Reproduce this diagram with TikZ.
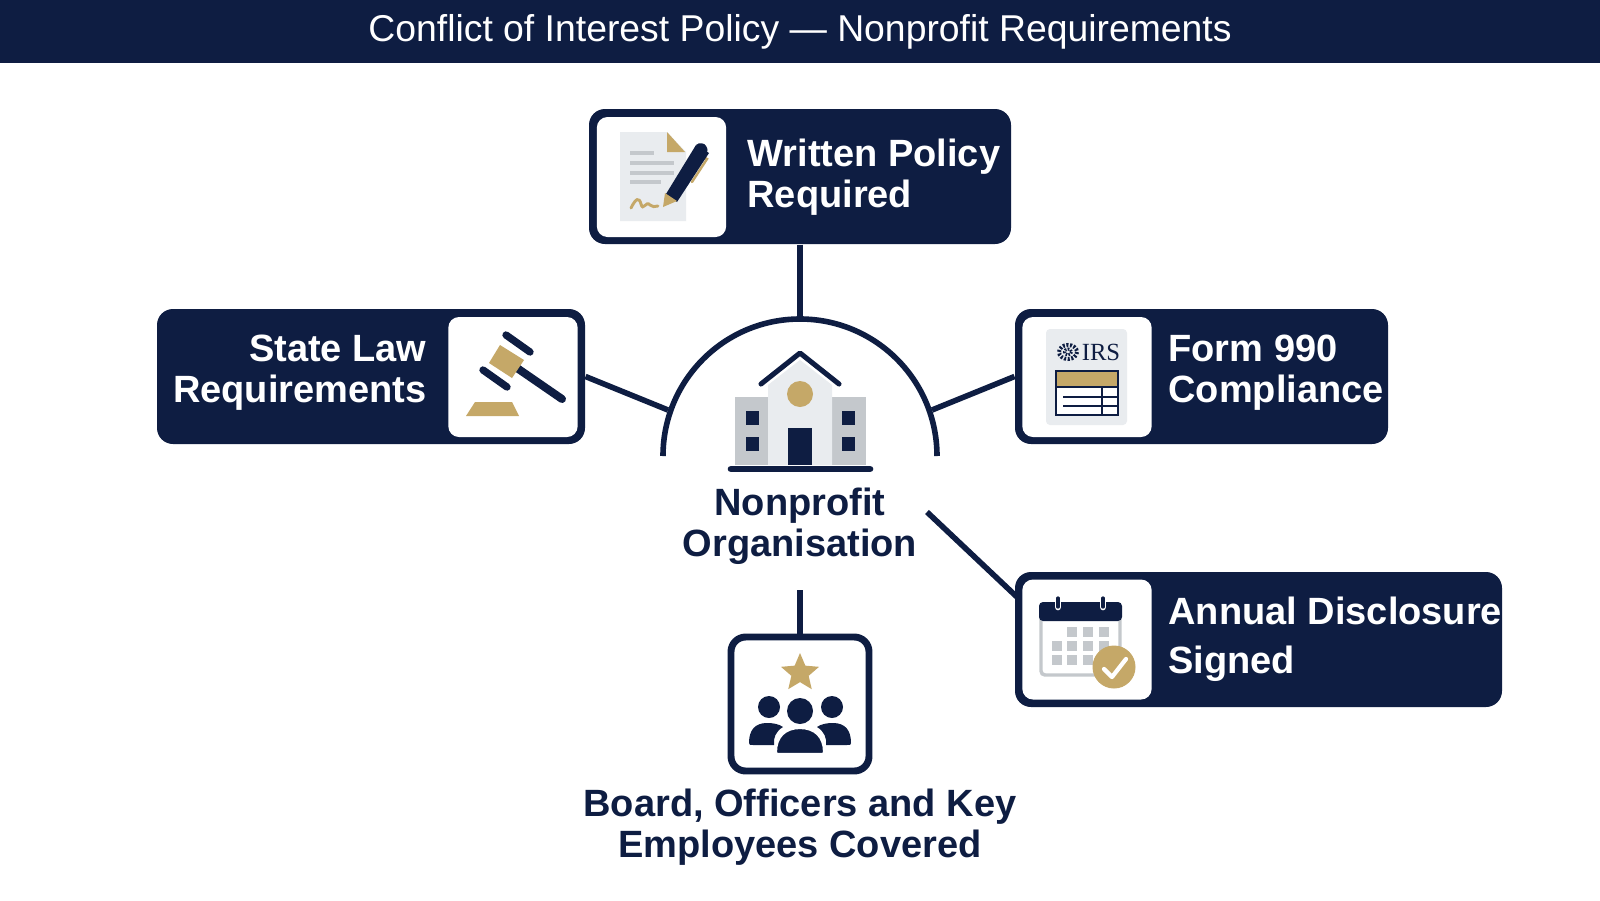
\documentclass[tikz,border=0pt]{standalone}
\usepackage{fontspec}
\setmainfont{Liberation Sans}
\newfontfamily\irsfont{Liberation Serif}
\usetikzlibrary{shapes.geometric}
\definecolor{navy}{RGB}{14,29,66}
\definecolor{gold}{RGB}{197,168,104}
\definecolor{paper}{RGB}{233,236,239}
\definecolor{wing}{RGB}{196,200,204}

\tikzset{every picture/.style={line width=0.75pt}}
\tikzset{
  navybox/.style={fill=navy,rounded corners=12pt,inner sep=0pt,minimum height=101.25pt},
  iconbox/.style={fill=white,rounded corners=8pt,inner sep=0pt,minimum width=97pt,minimum height=90pt},
  boxlabel/.style={text=white,inner sep=0pt,font=\bfseries\fontsize{28.5}{30.75}\selectfont},
  darklabel/.style={text=navy,inner sep=0pt,align=center,font=\bfseries\fontsize{28.5}{30.75}\selectfont},
  link/.style={draw=navy,line width=4.2pt},
  bar/.style={draw=navy,line cap=round,line width=#1},
  paperline/.style={draw=wing,line width=2.6pt},
  cell/.style={fill=wing,minimum size=7pt,inner sep=0pt}
}

\begin{document}
\begin{tikzpicture}[x=0.75pt,y=0.75pt,yscale=-1,xscale=1]
\useasboundingbox (0,0) rectangle (1600,900);
\fill[white] (0,0) rectangle (1600,900);

%Title bar
\node[fill=navy,minimum width=1200pt,minimum height=47.25pt,inner sep=0pt,text=white,font=\fontsize{28}{32}\selectfont] (titlebar) at (800,31.5) {Conflict of Interest Policy --- Nonprofit Requirements};

%Free ends of the connectors on the arc
\coordinate (arcleft) at (663,456);
\coordinate (arcright) at (937,456);
\coordinate (arctop) at (800,319);
\coordinate (arcwest) at (668,410);
\coordinate (arceast) at (932,410);
\coordinate (hubse) at (927,512);
\coordinate (hubs) at (800,590);
\coordinate (annualin) at (1017,597);

%Outer boxes
\node[navybox,minimum width=316.5pt] (writtenbox) at (800,176.5) {};
\node[navybox,minimum width=321pt] (lawbox) at (371,376.5) {};
\node[navybox,minimum width=279.75pt] (formbox) at (1201.5,376.5) {};
\node[navybox,minimum width=365.25pt] (annualbox) at (1258.5,639.5) {};
\node[draw=navy,line width=5.2pt,fill=white,rounded corners=11pt,inner sep=0pt,minimum width=103.5pt,minimum height=100.5pt] (boardbox) at (800,704) {};

%Straight Lines
\draw[link] (writtenbox.south) -- (arctop);
\draw[link] (lawbox.east) -- (arcwest);
\draw[link] (formbox.west) -- (arceast);
\draw[link] (hubse) -- (annualin);
\draw[link] (hubs) -- (boardbox.north);
%Arc round the building
\draw[link] (arcleft) arc[start angle=180,end angle=360,radius=137];

%White icon panels
\node[iconbox] (writtenicon) at (661.5,177) {};
\node[iconbox] (lawicon) at (513,377) {};
\node[iconbox] (formicon) at (1087,377) {};
\node[iconbox] (annualicon) at (1087,639.5) {};

%Labels
\node[boxlabel,anchor=west,align=left] (writtentext) at (747,177) {Written Policy\\Required};
\node[boxlabel,anchor=east,align=right] (lawtext) at (427,373) {State Law\\Requirements};
\node[boxlabel,anchor=west,align=left] (formtext) at (1168,373) {Form 990\\Compliance};
\node[boxlabel,anchor=west,align=left,font=\bfseries\fontsize{28.5}{36.75}\selectfont] (annualtext) at (1168,639) {Annual Disclosure\\Signed};
\node[darklabel] (hubtext) at (800,526) {Nonprofit\\Organisation};
\node[darklabel] (boardtext) at (800,827) {Board, Officers and Key\\Employees Covered};

%Document icon
\fill[paper] (620,132) -- (667,132) -- (686,152) -- (686,221) -- (620,221) -- cycle;
\fill[gold] (667,132) -- (685,152) -- (667,152) -- cycle;
\draw[paperline] (630,153) -- (654,153);
\draw[paperline] (630,163) -- (674,163);
\draw[paperline] (630,173) -- (674,173);
\draw[paperline] (630,182) -- (661,182);
\draw[gold,line width=2.2pt,line cap=round] (631,208) .. controls (636,198) and (639,197) .. (641,204) .. controls (643,212) and (646,200) .. (650,205) .. controls (652,207) and (655,207) .. (658,206);
\draw[gold,line width=1.8pt,line cap=round] (695,152) -- (707,159) -- (692,182);
\fill[navy] (666,194) -- (696,145) -- (709,153) -- (677,202) -- cycle;
\fill[navy] (696,145) .. controls (699,142) and (705,143) .. (706,146) .. controls (708,149) and (708,151) .. (706,154) -- cycle;
\fill[gold] (663,207) -- (665,193) -- (677,201) -- cycle;

%Gavel icon
\fill[gold] (475,402) -- (512,402) -- (519,416) -- (466,416) -- cycle;
\draw[bar=6pt] (517,368) -- (562,399);
\fill[gold] (500,345) -- (524,360) -- (512,378) -- (489,363) -- cycle;
\draw[bar=5.5pt] (506,335) -- (530,352);
\draw[bar=5.5pt] (483,370) -- (507,387);

%Form icon
\fill[paper,rounded corners=3pt] (1046,329) rectangle (1127,425);
\node[text=navy,inner sep=0pt,font=\irsfont\fontsize{18.5}{20}\selectfont] (irstext) at (1101,352) {IRS};
\draw[navy,line width=3pt,dash pattern=on 1.5pt off 1.2pt] (1068,352) ellipse [x radius=9,y radius=7];
\draw[navy,line width=2.2pt,dash pattern=on 1.2pt off 1pt] (1068,352) ellipse [x radius=3.5,y radius=3];
\fill[white] (1056,371) rectangle (1118,415);
\fill[gold] (1056,371) rectangle (1118,387);
\draw[navy,line width=1.3pt] (1056,371) rectangle (1118,415);
\draw[navy,line width=1.3pt] (1056,387) -- (1118,387);
\draw[navy,line width=1.3pt] (1063,397) -- (1118,397);
\draw[navy,line width=1.3pt] (1063,406) -- (1118,406);
\draw[navy,line width=1.3pt] (1102,387) -- (1102,415);

%Calendar icon
\draw[wing,line width=2.6pt,rounded corners=3pt] (1041,610) -- (1041,675) -- (1120,675) -- (1120,610);
\fill[navy,rounded corners=3pt] (1039,602) -- (1122,602) -- (1122,621) -- (1039,621) -- cycle;
\foreach \cx in {1058,1103} {
  \draw[white,line width=5pt,line cap=round] (\cx,598) -- (\cx,607);
  \draw[navy,line width=2.4pt,line cap=round] (\cx,598) -- (\cx,607);
}
\foreach \cx in {1072,1088,1104} { \node[cell] at (\cx,632) {}; }
\foreach \cx in {1057,1072,1088,1104} { \node[cell] at (\cx,646) {}; }
\foreach \cx in {1057,1072,1088} { \node[cell] at (\cx,660) {}; }
\draw[gold,fill=gold] (1114,667) circle (21);
\draw[white,line width=3.2pt,line cap=round,line join=round] (1104,669) -- (1112,677) -- (1126,659);

%Building icon
\fill[wing] (735,397) rectangle (768,465);
\fill[wing] (832,397) rectangle (866,465);
\fill[paper] (768,385) -- (800,360) -- (832,385) -- (832,465) -- (768,465) -- cycle;
\draw[bar=3.8pt,line join=round] (761,384) -- (800,353) -- (839,384);
\fill[gold] (800,394) circle (13);
\fill[navy] (788,428) rectangle (812,465);
\foreach \wx in {746,842} {
  \fill[navy] (\wx,411) rectangle ++(12.5,14);
  \fill[navy] (\wx,437) rectangle ++(12.5,14);
}
\draw[bar=5pt] (731,469) -- (870,469);

%People icon
\node[star,star points=5,star point ratio=2.2,fill=gold,inner sep=0pt,minimum size=30pt] (boardstar) at (800,673) {};
\fill[navy] (769,707) circle (11);
\fill[navy] (832,707) circle (11);
\fill[navy] (749,743) .. controls (749,730) and (755,723) .. (767,723) .. controls (773,723) and (779,724) .. (783,727) .. controls (776,731) and (773,738) .. (774,745) -- (753,745) .. controls (750,745) and (749,745) .. (749,743) -- cycle;
\fill[navy] (851,743) .. controls (851,730) and (845,723) .. (833,723) .. controls (827,723) and (821,724) .. (817,727) .. controls (824,731) and (827,738) .. (826,745) -- (847,745) .. controls (850,745) and (851,745) .. (851,743) -- cycle;
\fill[navy] (800,711) circle (13);
\draw[white,line width=1.6pt,fill=navy] (776,752) .. controls (776,737) and (785,728) .. (800,728) .. controls (815,728) and (824,737) .. (824,752) .. controls (824,754) and (823,754) .. (821,754) -- (779,754) .. controls (777,754) and (776,754) .. (776,752) -- cycle;

\end{tikzpicture}
\end{document}
